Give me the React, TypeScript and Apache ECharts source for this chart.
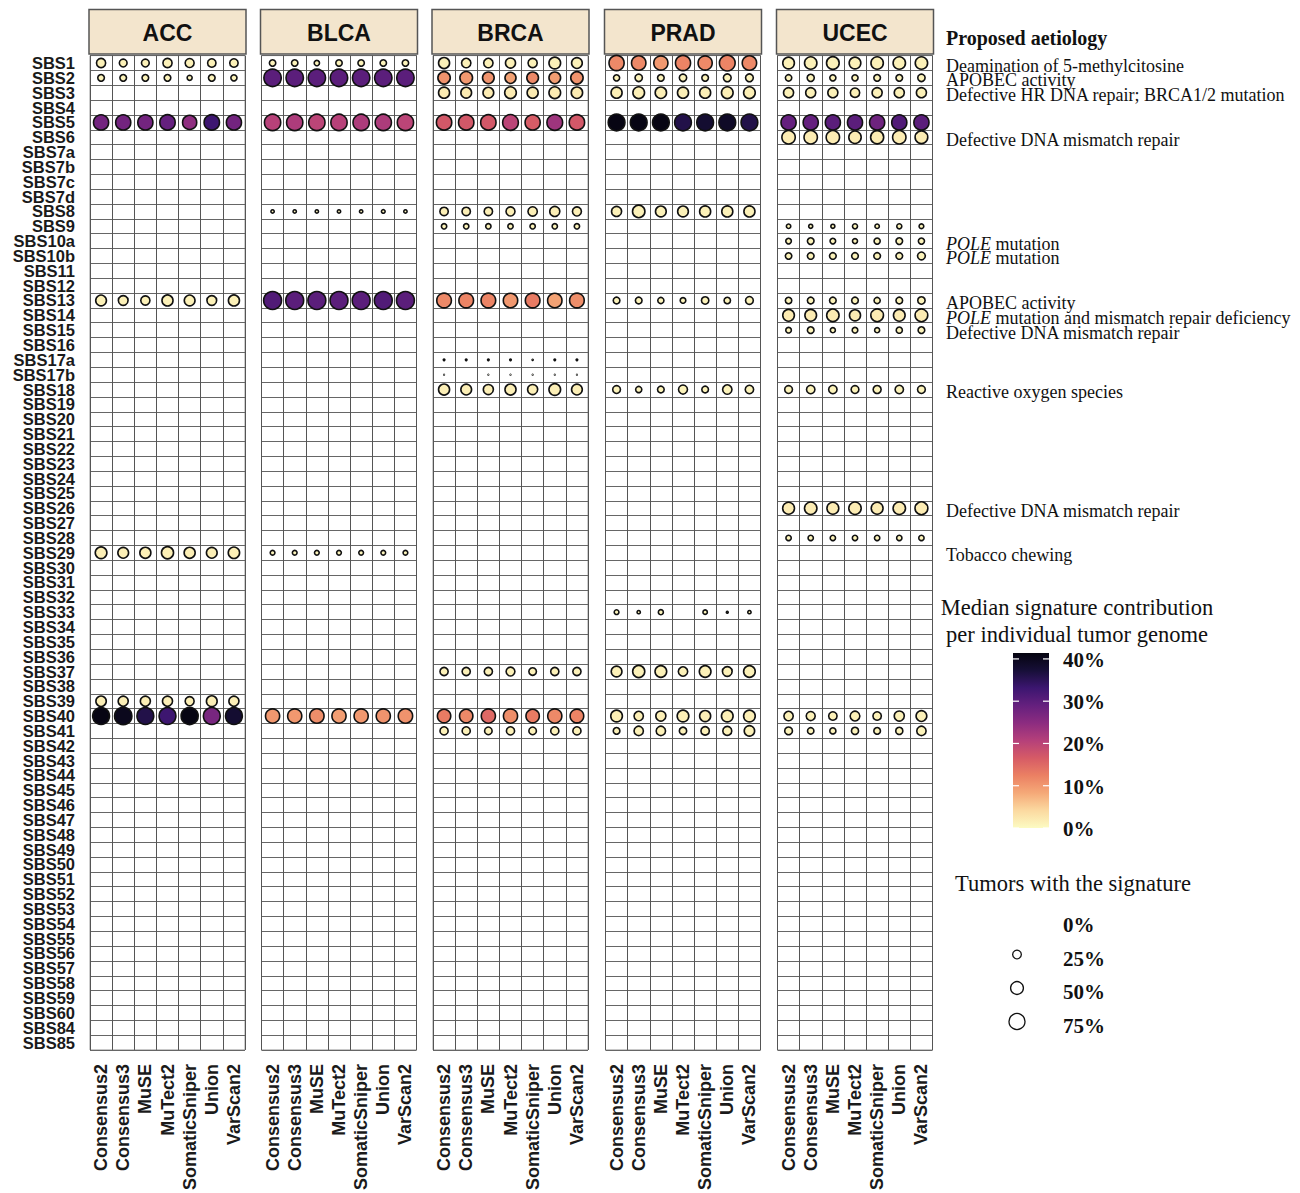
import React, { useEffect, useRef } from "react";
import * as echarts from "echarts";

// ---------- categories ----------
const cancers = ["ACC", "BLCA", "BRCA", "PRAD", "UCEC"];
const callers = ["Consensus2", "Consensus3", "MuSE", "MuTect2", "SomaticSniper", "Union", "VarScan2"];
const signatures = [
  "SBS1", "SBS2", "SBS3", "SBS4", "SBS5", "SBS6", "SBS7a", "SBS7b", "SBS7c", "SBS7d",
  "SBS8", "SBS9", "SBS10a", "SBS10b", "SBS11", "SBS12", "SBS13", "SBS14", "SBS15", "SBS16",
  "SBS17a", "SBS17b", "SBS18", "SBS19", "SBS20", "SBS21", "SBS22", "SBS23", "SBS24", "SBS25",
  "SBS26", "SBS27", "SBS28", "SBS29", "SBS30", "SBS31", "SBS32", "SBS33", "SBS34", "SBS35",
  "SBS36", "SBS37", "SBS38", "SBS39", "SBS40", "SBS41", "SBS42", "SBS43", "SBS44", "SBS45",
  "SBS46", "SBS47", "SBS48", "SBS49", "SBS50", "SBS51", "SBS52", "SBS53", "SBS54", "SBS55",
  "SBS56", "SBS57", "SBS58", "SBS59", "SBS60", "SBS84", "SBS85",
];

// ---------- aetiology ----------
const aetiologySignatures = ["SBS1", "SBS2", "SBS3", "SBS6", "SBS10a", "SBS10b", "SBS13", "SBS14", "SBS15", "SBS18", "SBS26", "SBS29"];
const aetiologyTexts = [
  "Deamination of 5-methylcitosine",
  "APOBEC activity",
  "Defective HR DNA repair; BRCA1/2 mutation",
  "Defective DNA mismatch repair",
  "{i|POLE} mutation",
  "{i|POLE} mutation",
  "APOBEC activity",
  "{i|POLE} mutation and mismatch repair deficiency",
  "Defective DNA mismatch repair",
  "Reactive oxygen species",
  "Defective DNA mismatch repair",
  "Tobacco chewing",
];

// ---------- legend ticks ----------
const colorTicks = [0, 10, 20, 30, 40];
const colorMax = 41.4;
const sizeTicks = [0, 25, 50, 75];

// ---------- data: median contribution (%) and tumors with signature (%) ----------
// columns follow `callers`
const accSignatures = ["SBS1", "SBS2", "SBS5", "SBS13", "SBS29", "SBS39", "SBS40"];
const accContribution = [
  [1.2, 1.2, 1.2, 1.2, 1.2, 1.2, 1.2],
  [1, 1, 1, 1, 1, 1, 1],
  [27.5, 27.5, 27.5, 29, 24.5, 33, 27.5],
  [1.2, 1.2, 1.2, 1.2, 1.2, 1.2, 1.2],
  [1.5, 1.5, 1.5, 1.5, 1.5, 1.5, 1.5],
  [1.5, 1.5, 1.5, 1.5, 1.5, 1.5, 1.5],
  [41, 40, 36, 33, 41, 27, 38],
];
const accTumors = [
  [29, 22, 22, 29, 28, 25, 25],
  [17, 17, 17, 17, 11, 17, 15],
  [70, 70, 70, 72, 62, 72, 70],
  [38, 32, 29, 40, 38, 32, 40],
  [44, 38, 40, 47, 40, 38, 42],
  [36, 34, 34, 34, 28, 38, 34],
  [85, 90, 85, 85, 87, 85, 85],
];

const blcaSignatures = ["SBS1", "SBS2", "SBS5", "SBS8", "SBS13", "SBS29", "SBS40"];
const blcaContribution = [
  [1, 1, 1, 1, 1, 1, 1],
  [30, 30, 30, 30, 30, 30, 30],
  [20.5, 21.5, 20, 20.5, 21.5, 21.5, 20],
  [0.8, 0.8, 0.8, 0.8, 0.8, 0.8, 0.8],
  [31, 30, 30, 30, 30, 31, 30],
  [0.8, 0.8, 0.8, 0.8, 0.8, 0.8, 0.8],
  [10, 10, 11, 9.5, 10, 10.5, 10.5],
];
const blcaTumors = [
  [16, 16, 12, 16, 16, 16, 16],
  [90, 90, 90, 90, 90, 90, 90],
  [80, 80, 80, 80, 80, 80, 80],
  [6, 6, 6, 6, 6, 7, 6],
  [95, 95, 95, 95, 95, 95, 95],
  [10, 10, 10, 10, 10, 10, 10],
  [62, 62, 64, 62, 62, 62, 64],
];

const brcaSignatures = ["SBS1", "SBS2", "SBS3", "SBS5", "SBS8", "SBS9", "SBS13", "SBS17a", "SBS17b", "SBS18", "SBS37", "SBS40", "SBS41"];
const brcaContribution = [
  [1.2, 1.2, 1.2, 1.2, 1.2, 1.2, 1.2],
  [10.5, 10, 10.5, 9, 11.5, 9.5, 10.5],
  [2, 2, 2, 2, 2, 2, 2],
  [17, 17, 17, 20, 16.5, 23, 17],
  [1.5, 1.5, 1.5, 1.5, 1.5, 1.5, 1.5],
  [1, 1, 1, 1, 1, 1, 1],
  [11.5, 12, 12, 10, 13, 9, 11],
  [1, 1, 1, 1, 1, 1, 1],
  [0.5, null, 0.5, 0.5, 0.5, 0.5, 0.5],
  [1.5, 1.5, 1.5, 1.5, 1.5, 1.5, 1.5],
  [1.2, 1.2, 1.2, 1.2, 1.2, 1.2, 1.2],
  [13, 11.5, 15, 11, 13, 11.5, 12],
  [1.2, 1.2, 1.2, 1.2, 1.2, 1.2, 1.2],
];
const brcaTumors = [
  [40, 30, 30, 34, 29, 44, 38],
  [49, 51, 44, 40, 44, 44, 49],
  [40, 38, 38, 44, 40, 44, 42],
  [72, 72, 72, 75, 70, 75, 72],
  [25, 25, 25, 28, 30, 34, 28],
  [12, 12, 12, 12, 12, 12, 12],
  [66, 66, 66, 64, 66, 64, 66],
  [2.5, 2.5, 2.5, 2.5, 1.8, 2.5, 2.5],
  [1.2, null, 1.2, 1, 1, 1, 1],
  [40, 38, 34, 40, 34, 44, 38],
  [24, 24, 24, 27, 21, 24, 24],
  [56, 56, 62, 62, 56, 62, 58],
  [24, 24, 21, 24, 21, 24, 24],
];

const pradSignatures = ["SBS1", "SBS2", "SBS3", "SBS5", "SBS8", "SBS13", "SBS18", "SBS33", "SBS37", "SBS40", "SBS41"];
const pradContribution = [
  [11.5, 11.5, 10, 12, 11.5, 12, 11.5],
  [1, 1, 1, 1, 1, 1, 1],
  [1.5, 1.5, 1.5, 1.5, 1.5, 1.5, 1.5],
  [41, 41, 41, 36, 38, 39, 36],
  [1.2, 1.2, 1.2, 1.2, 1.2, 1.2, 1.2],
  [1, 1, 1, 1, 1, 1, 1],
  [1, 1, 1, 1, 1, 1, 1],
  [0.8, 0.8, 0.8, null, 0.8, 0.8, 0.8],
  [1.2, 1.2, 1.2, 1.2, 1.2, 1.2, 1.2],
  [1.5, 1.5, 1.5, 1.5, 1.5, 1.5, 1.5],
  [1.2, 1.2, 1.2, 1.2, 1.2, 1.2, 1.2],
];
const pradTumors = [
  [70, 64, 62, 70, 62, 75, 64],
  [15, 20, 17, 20, 17, 22, 22],
  [40, 44, 42, 40, 40, 44, 44],
  [84, 84, 84, 84, 84, 84, 84],
  [34, 49, 38, 38, 40, 40, 40],
  [17, 17, 15, 13, 20, 16, 22],
  [22, 15, 17, 28, 17, 30, 25],
  [10, 6, 11, null, 9, 3, 6],
  [38, 47, 44, 30, 44, 32, 44],
  [44, 30, 34, 44, 40, 44, 44],
  [17, 30, 30, 20, 25, 28, 36],
];

const ucecSignatures = ["SBS1", "SBS2", "SBS3", "SBS5", "SBS6", "SBS9", "SBS10a", "SBS10b", "SBS13", "SBS14", "SBS15", "SBS18", "SBS26", "SBS28", "SBS40", "SBS41"];
const ucecContribution = [
  [1.2, 1.2, 1.2, 1.2, 1.2, 1.2, 1.2],
  [1, 1, 1, 1, 1, 1, 1],
  [1.2, 1.2, 1.2, 1.2, 1.2, 1.2, 1.2],
  [29, 29, 30, 30, 28, 31, 30],
  [1.8, 1.8, 1.8, 1.8, 1.8, 1.8, 1.8],
  [0.8, 0.8, 0.8, 0.8, 0.8, 0.8, 0.8],
  [1, 1, 1, 1, 1, 1, 1],
  [1, 1, 1, 1, 1, 1, 1],
  [1, 1, 1, 1, 1, 1, 1],
  [2, 2, 2, 2, 2, 2, 2],
  [1, 1, 1, 1, 1, 1, 1],
  [1, 1, 1, 1, 1, 1, 1],
  [1.8, 1.8, 1.8, 1.8, 1.8, 1.8, 1.8],
  [1, 1, 1, 1, 1, 1, 1],
  [1.2, 1.2, 1.2, 1.2, 1.2, 1.2, 1.2],
  [1, 1, 1, 1, 1, 1, 1],
];
const ucecTumors = [
  [44, 49, 51, 44, 49, 49, 49],
  [16, 19, 15, 15, 17, 17, 20],
  [34, 34, 34, 30, 34, 34, 34],
  [70, 70, 70, 70, 70, 70, 70],
  [56, 56, 56, 49, 54, 56, 51],
  [9, 8, 8, 11, 9, 11, 10],
  [13, 17, 13, 11, 15, 17, 15],
  [16, 17, 17, 17, 17, 17, 22],
  [16, 17, 17, 17, 15, 17, 20],
  [44, 44, 49, 40, 51, 44, 51],
  [13, 17, 11, 13, 11, 15, 17],
  [22, 25, 25, 22, 23, 25, 22],
  [45, 49, 45, 49, 45, 49, 52],
  [12, 12, 12, 12, 12, 12, 12],
  [30, 28, 25, 32, 25, 34, 38],
  [22, 16, 15, 19, 17, 19, 30],
];

const panelSignatures = [accSignatures, blcaSignatures, brcaSignatures, pradSignatures, ucecSignatures];
const panelContribution = [accContribution, blcaContribution, brcaContribution, pradContribution, ucecContribution];
const panelTumors = [accTumors, blcaTumors, brcaTumors, pradTumors, ucecTumors];

// magma-like palette, reversed (low = light yellow, high = black), as printed in the figure
const magmaReversed = ["#FCFBC2", "#FBD9A0", "#F5A978", "#EB8063", "#D65B66", "#B5407A", "#8C2C80", "#65207E", "#3C1670", "#170F38", "#05040F"];

// ---------- layout ----------
const gridLefts = [90, 261.5, 433, 605.5, 777.5];
const gridWidth = 155;
const gridTop = 55.6;
const gridHeight = 995;
const maxDiameter = 20;
const pointBorder = 1.6;

const SANS = "'Liberation Sans', Arial, Helvetica, sans-serif";
const SERIF = "'Liberation Serif', 'Times New Roman', Times, serif";

function diameter(p: number) {
  return maxDiameter * Math.sqrt(p / 100);
}

function buildSeriesData(k: number) {
  const out: number[][] = [];
  const sigs = panelSignatures[k];
  sigs.forEach((sig, r) => {
    const yi = signatures.indexOf(sig);
    for (let c = 0; c < callers.length; c++) {
      const t = panelTumors[k][r][c];
      const v = panelContribution[k][r][c];
      if (t == null || v == null) continue;
      out.push([c, yi, v, t]);
    }
  });
  return out;
}

export default function App() {
  const ref = useRef<HTMLDivElement>(null);

  useEffect(() => {
    if (!ref.current) return;
    const chart = echarts.init(ref.current, undefined, { renderer: "svg" });

    const aetMap: Record<string, string> = {};
    aetiologySignatures.forEach((s, i) => (aetMap[s] = aetiologyTexts[i]));

    const grids = cancers.map((_, k) => ({
      left: gridLefts[k],
      top: gridTop,
      width: gridWidth,
      height: gridHeight,
      show: true,
      backgroundColor: "#fff",
      borderColor: "#9a9a9a",
      borderWidth: 1,
    }));

    const xAxes = cancers.map((_, k) => ({
      gridIndex: k,
      type: "category",
      data: callers,
      axisTick: { show: false },
      axisLine: { show: false },
      splitLine: { show: true, interval: 0, lineStyle: { color: "#555", width: 1 } },
      axisLabel: {
        interval: 0,
        rotate: 90,
        margin: 14,
        fontSize: 18,
        fontWeight: "bold",
        fontFamily: SANS,
        color: "#1a1a1a",
      },
    }));

    const yAxes: any[] = cancers.map((_, k) => ({
      gridIndex: k,
      type: "category",
      data: signatures,
      inverse: true,
      position: "left",
      axisTick: { show: false },
      axisLine: { show: false },
      splitLine: { show: true, interval: 0, lineStyle: { color: "#666", width: 1 } },
      axisLabel:
        k === 0
          ? {
              interval: 0,
              margin: 15,
              fontSize: 16.5,
              fontWeight: "bold",
              fontFamily: SANS,
              color: "#1a1a1a",
            }
          : { show: false },
    }));
    yAxes.push({
      gridIndex: 4,
      type: "category",
      data: signatures,
      inverse: true,
      position: "right",
      axisTick: { show: false },
      axisLine: { show: false },
      splitLine: { show: false },
      axisLabel: {
        interval: 0,
        margin: 13.5,
        fontSize: 18,
        fontFamily: SERIF,
        color: "#111",
        padding: [5, 0, 0, 0],
        formatter: (val: string) => aetMap[val] || "",
        rich: {
          i: { fontStyle: "italic", fontSize: 18, fontFamily: SERIF, color: "#111" },
        },
      },
    });

    const series = cancers.map((_, k) => ({
      type: "scatter",
      xAxisIndex: k,
      yAxisIndex: k,
      data: buildSeriesData(k),
      symbol: "circle",
      symbolSize: (v: number[]) => Math.max(diameter(v[3]) - pointBorder, 0.6),
      itemStyle: { borderColor: "#111", borderWidth: pointBorder, opacity: 1 },
      emphasis: { disabled: true },
    }));

    // ---------- graphic: strips + legends ----------
    const graphic: any[] = [];
    cancers.forEach((name, k) => {
      graphic.push({
        type: "rect",
        shape: { x: gridLefts[k] - 1, y: 9.5, width: gridWidth + 2, height: 44.5 },
        style: { fill: "#F3E5CD", stroke: "#555", lineWidth: 1.5 },
      });
      graphic.push({
        type: "text",
        x: gridLefts[k] + gridWidth / 2,
        y: 32.5,
        style: {
          text: name,
          fontSize: 23,
          fontWeight: "bold",
          fontFamily: SANS,
          fill: "#111",
          align: "center",
          verticalAlign: "middle",
        },
      });
    });

    graphic.push({
      type: "text",
      x: 946,
      y: 38,
      style: { text: "Proposed aetiology", fontSize: 20, fontWeight: "bold", fontFamily: SERIF, fill: "#111", verticalAlign: "middle" },
    });

    // colour legend
    const barX = 1013, barY = 653, barW = 36, barH = 175;
    graphic.push({
      type: "text",
      x: 1077,
      y: 607,
      style: { text: "Median signature contribution", fontSize: 22.5, fontFamily: SERIF, fill: "#111", align: "center", verticalAlign: "middle" },
    });
    graphic.push({
      type: "text",
      x: 1077,
      y: 634,
      style: { text: "per individual tumor genome", fontSize: 22.5, fontFamily: SERIF, fill: "#111", align: "center", verticalAlign: "middle" },
    });
    graphic.push({
      type: "rect",
      shape: { x: barX, y: barY, width: barW, height: barH },
      style: {
        fill: new echarts.graphic.LinearGradient(
          0, 1, 0, 0,
          magmaReversed.map((c, i) => ({ offset: i / (magmaReversed.length - 1), color: c }))
        ),
      },
    });
    colorTicks.forEach((v) => {
      const y = barY + barH - (v / colorMax) * barH;
      graphic.push({ type: "line", shape: { x1: barX, y1: y, x2: barX + 6, y2: y }, style: { stroke: "#fff", lineWidth: 1.2 } });
      graphic.push({ type: "line", shape: { x1: barX + barW - 6, y1: y, x2: barX + barW, y2: y }, style: { stroke: "#fff", lineWidth: 1.2 } });
      graphic.push({
        type: "text",
        x: 1063,
        y: y + 1,
        style: { text: v + "%", fontSize: 21, fontWeight: "bold", fontFamily: SERIF, fill: "#111", verticalAlign: "middle" },
      });
    });

    // size legend
    graphic.push({
      type: "text",
      x: 955,
      y: 883,
      style: { text: "Tumors with the signature", fontSize: 22.5, fontFamily: SERIF, fill: "#111", verticalAlign: "middle" },
    });
    sizeTicks.forEach((p, i) => {
      const cy = 923 + i * 33.5;
      if (p > 0) {
        graphic.push({
          type: "circle",
          shape: { cx: 1017, cy: cy - 2, r: Math.max((diameter(p) - 1.3) / 2, 0.5) },
          style: { fill: "none", stroke: "#111", lineWidth: 1.3 },
        });
      }
      graphic.push({
        type: "text",
        x: 1063,
        y: cy + 2,
        style: { text: p + "%", fontSize: 21, fontWeight: "bold", fontFamily: SERIF, fill: "#111", verticalAlign: "middle" },
      });
    });

    chart.setOption({
      animation: false,
      backgroundColor: "#fff",
      grid: grids,
      xAxis: xAxes,
      yAxis: yAxes,
      visualMap: {
        type: "continuous",
        show: false,
        dimension: 2,
        min: 0,
        max: colorMax,
        seriesIndex: [0, 1, 2, 3, 4],
        inRange: { color: magmaReversed },
      },
      series,
      graphic,
    });

    return () => chart.dispose();
  }, []);

  return (
    <div
      ref={ref}
      style={{ position: "fixed", left: 0, top: 0, width: 1300, height: 1193, background: "#fff" }}
    />
  );
}
